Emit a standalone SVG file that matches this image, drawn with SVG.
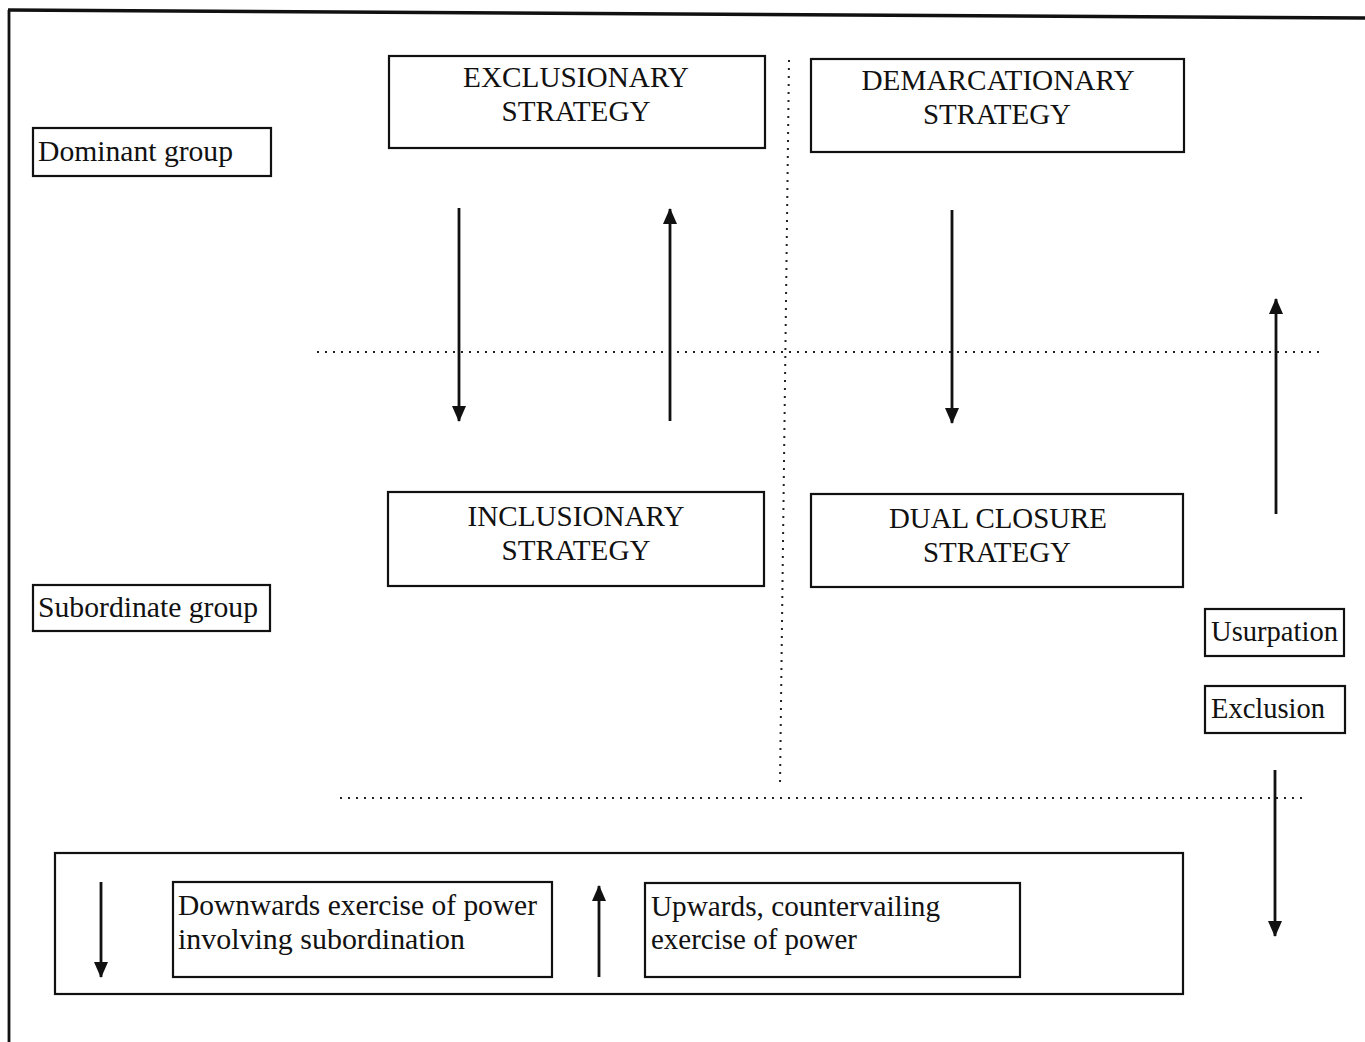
<svg xmlns="http://www.w3.org/2000/svg" width="1365" height="1042" viewBox="0 0 1365 1042">
<style>
.box{fill:#fff;stroke:#111;stroke-width:2.2}
.t{font-family:"Liberation Serif","Times New Roman",serif;font-size:30px;fill:#111}
.c{font-size:29px;text-anchor:middle}
.arr{stroke:#111;stroke-width:2.8;fill:none}
.dot{stroke:#222;stroke-width:2;stroke-dasharray:2 6;fill:none}
</style>
<defs>
<marker id="ah" viewBox="0 0 16 14" refX="15" refY="7" markerWidth="16" markerHeight="14" orient="auto" markerUnits="userSpaceOnUse">
<path d="M0,0 L16,7 L0,14 z" fill="#111"/>
</marker>
</defs>
<rect width="1365" height="1042" fill="#fff"/>
<g id="frame">
<line x1="9" y1="10" x2="9" y2="1042" stroke="#111" stroke-width="2.8"/>
<line x1="8" y1="10" x2="1365" y2="18" stroke="#111" stroke-width="3.5"/>
</g>
<g id="guides">
<line class="dot" x1="789" y1="60" x2="780" y2="785"/>
<line class="dot" x1="317" y1="352" x2="1322" y2="352"/>
<line class="dot" x1="340" y1="798" x2="1308" y2="798"/>
</g>
<g id="connectors">
<line class="arr" x1="459" y1="208" x2="459" y2="421" marker-end="url(#ah)"/>
<line class="arr" x1="670" y1="421" x2="670" y2="209" marker-end="url(#ah)"/>
<line class="arr" x1="952" y1="210" x2="952" y2="423" marker-end="url(#ah)"/>
<line class="arr" x1="1276" y1="514" x2="1276" y2="299" marker-end="url(#ah)"/>
<line class="arr" x1="1275" y1="770" x2="1275" y2="936" marker-end="url(#ah)"/>
</g>
<g id="exclusionary">
<rect class="box" x="389" y="56" width="376" height="92"/>
<text class="t c" x="576" y="87" textLength="226" lengthAdjust="spacingAndGlyphs">EXCLUSIONARY</text>
<text class="t c" x="576" y="121" textLength="149" lengthAdjust="spacingAndGlyphs">STRATEGY</text>
</g>
<g id="demarcationary">
<rect class="box" x="811" y="59" width="373" height="93"/>
<text class="t c" x="998" y="90" textLength="273" lengthAdjust="spacingAndGlyphs">DEMARCATIONARY</text>
<text class="t c" x="997" y="124" textLength="148" lengthAdjust="spacingAndGlyphs">STRATEGY</text>
</g>
<g id="dominant">
<rect class="box" x="33" y="128" width="238" height="48"/>
<text class="t" x="38" y="161" textLength="195" lengthAdjust="spacingAndGlyphs">Dominant group</text>
</g>
<g id="inclusionary">
<rect class="box" x="388" y="492" width="376" height="94"/>
<text class="t c" x="576" y="526" textLength="217" lengthAdjust="spacingAndGlyphs">INCLUSIONARY</text>
<text class="t c" x="576" y="560" textLength="149" lengthAdjust="spacingAndGlyphs">STRATEGY</text>
</g>
<g id="dualclosure">
<rect class="box" x="811" y="494" width="372" height="93"/>
<text class="t c" x="998" y="528" textLength="218" lengthAdjust="spacingAndGlyphs">DUAL CLOSURE</text>
<text class="t c" x="997" y="562" textLength="148" lengthAdjust="spacingAndGlyphs">STRATEGY</text>
</g>
<g id="subordinate">
<rect class="box" x="33" y="585" width="237" height="46"/>
<text class="t" x="38" y="617" textLength="220" lengthAdjust="spacingAndGlyphs">Subordinate group</text>
</g>
<g id="usurpation">
<rect class="box" x="1205" y="609" width="139" height="47"/>
<text class="t" x="1211" y="641" textLength="127" lengthAdjust="spacingAndGlyphs">Usurpation</text>
</g>
<g id="exclusion">
<rect class="box" x="1205" y="686" width="140" height="47"/>
<text class="t" x="1211" y="718" textLength="114" lengthAdjust="spacingAndGlyphs">Exclusion</text>
</g>
<g id="legend">
<rect class="box" x="55" y="853" width="1128" height="141"/>
<line class="arr" x1="101" y1="882" x2="101" y2="977" marker-end="url(#ah)"/>
<line class="arr" x1="599" y1="977" x2="599" y2="886" marker-end="url(#ah)"/>
<g id="legend-down">
<rect class="box" x="173" y="882" width="379" height="95"/>
<text class="t" x="178" y="915" textLength="359" lengthAdjust="spacingAndGlyphs">Downwards exercise of power</text>
<text class="t" x="178" y="949" textLength="287" lengthAdjust="spacingAndGlyphs">involving subordination</text>
</g>
<g id="legend-up">
<rect class="box" x="645" y="883" width="375" height="94"/>
<text class="t" x="651" y="916" textLength="289" lengthAdjust="spacingAndGlyphs">Upwards, countervailing</text>
<text class="t" x="651" y="949" textLength="206" lengthAdjust="spacingAndGlyphs">exercise of power</text>
</g>
</g>
</svg>
